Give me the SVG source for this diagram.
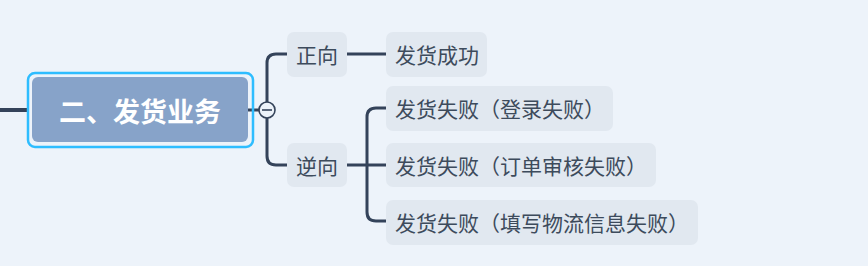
<svg xmlns="http://www.w3.org/2000/svg" width="868" height="266" viewBox="0 0 868 266">
<style>
.bg{fill:#EDF3FA}
.conn{fill:none;stroke:#34435A;stroke-width:3;stroke-linecap:round}
.sub{fill:#E1E8F0}
text{text-spacing-trim:space-all;font-feature-settings:"chws" 0,"halt" 0}
.t{font-family:"Noto Sans CJK SC","Noto Sans",sans-serif;font-size:21px;font-weight:400;fill:#3D4B5C;dominant-baseline:central}
.main{font-family:"Noto Sans CJK SC","Noto Sans",sans-serif;font-size:27px;font-weight:bold;fill:#FFFFFF;dominant-baseline:central;text-anchor:middle}
</style>
<rect class="bg" x="0" y="0" width="868" height="266"/>
<g id="connectors">
<line x1="0" y1="110" x2="28" y2="110" stroke="#34435A" stroke-width="4"/>
<line x1="248" y1="110" x2="260" y2="110" stroke="#34435A" stroke-width="3"/>
<path class="conn" d="M267 102 V63 Q267 54 276 54 H287"/>
<path class="conn" d="M267 118 V156 Q267 165 276 165 H287"/>
<path class="conn" d="M347 54 H386"/>
<path class="conn" d="M347 165 H386"/>
<path class="conn" d="M386 108 H376 Q367 108 367 117 V212 Q367 221 376 221 H386"/>
</g>
<g id="collapse">
<circle cx="267" cy="110" r="8" fill="#EDF3FA" stroke="#34435A" stroke-width="1.6"/>
<line x1="262" y1="110" x2="272" y2="110" stroke="#34435A" stroke-width="1.6"/>
</g>
<g id="root">
<rect x="28" y="73" width="225" height="74" rx="7" fill="none" stroke="#2EBDFF" stroke-width="2.5"/>
<rect x="32" y="77" width="216" height="65" rx="6" fill="#87A3C9"/>
<text class="main" x="140" y="110">二、发货业务</text>
</g>
<g id="forward">
<rect class="sub" x="287" y="32" width="60" height="45" rx="7"/>
<text class="t" x="317" y="54" text-anchor="middle">正向</text>
</g>
<g id="reverse">
<rect class="sub" x="287" y="143" width="60" height="44" rx="7"/>
<text class="t" x="317" y="165" text-anchor="middle">逆向</text>
</g>
<g id="success">
<rect class="sub" x="386" y="32" width="101" height="45" rx="7"/>
<text class="t" x="395" y="54">发货成功</text>
</g>
<g id="fail-login">
<rect class="sub" x="386" y="86" width="227" height="45" rx="7"/>
<text class="t" x="395" y="108">发货失败（登录失败）</text>
</g>
<g id="fail-audit">
<rect class="sub" x="386" y="143" width="270" height="44" rx="7"/>
<text class="t" x="395" y="165">发货失败（订单审核失败）</text>
</g>
<g id="fail-logistics">
<rect class="sub" x="386" y="200" width="312" height="45" rx="7"/>
<text class="t" x="395" y="222">发货失败（填写物流信息失败）</text>
</g>
</svg>
